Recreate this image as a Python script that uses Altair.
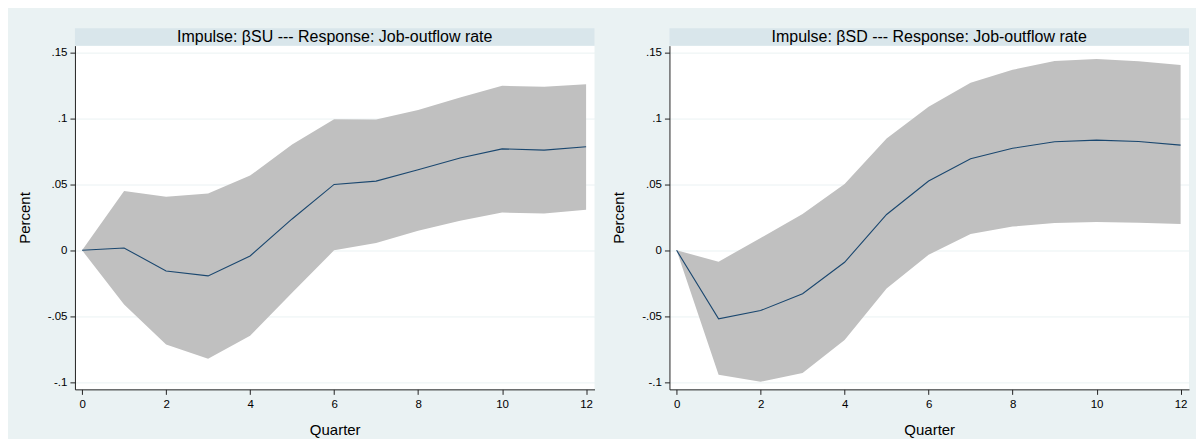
import altair as alt
import pandas as pd

quarters = list(range(13))

# Impulse: beta SU
su_irf = [0.0, 0.0018, -0.0157, -0.0194, -0.0043, 0.0238, 0.0500, 0.0525, 0.0612, 0.0700, 0.0770, 0.0760, 0.0786]
su_lo = [0.0, -0.0412, -0.0715, -0.0823, -0.0649, -0.0322, 0.0000, 0.0056, 0.0149, 0.0225, 0.0287, 0.0279, 0.0308]
su_hi = [0.0, 0.0450, 0.0407, 0.0432, 0.0567, 0.0803, 0.0995, 0.0993, 0.1065, 0.1160, 0.1248, 0.1242, 0.1260]

# Impulse: beta SD
sd_irf = [0.0, -0.0520, -0.0457, -0.0330, -0.0091, 0.0272, 0.0526, 0.0695, 0.0774, 0.0824, 0.0836, 0.0826, 0.0798]
sd_lo = [0.0, -0.0945, -0.0998, -0.0930, -0.0680, -0.0290, -0.0033, 0.0124, 0.0180, 0.0207, 0.0215, 0.0210, 0.0200]
sd_hi = [0.0, -0.0086, 0.0093, 0.0275, 0.0503, 0.0848, 0.1089, 0.1272, 0.1370, 0.1437, 0.1452, 0.1434, 0.1406]

panel_titles = [
    "Impulse: \u03b2SU --- Response: Job-outflow rate",
    "Impulse: \u03b2SD --- Response: Job-outflow rate",
]

x_ticks = [0, 2, 4, 6, 8, 10, 12]
y_ticks = [-0.1, -0.05, 0, 0.05, 0.1, 0.15]
y_tick_labels = ["-.1", "-.05", "0", ".05", ".1", ".15"]

FONT = "Liberation Sans"
W, H = 520, 344
HEADER = 17.5

expr = "''"
for v, lab in zip(y_ticks, y_tick_labels):
    expr = f"round(datum.value*100)=={round(v*100)} ? '{lab}' : ({expr})"

xscale = alt.Scale(domain=[-0.17, 12.2], nice=False, zero=False)
yscale = alt.Scale(domain=[-0.1055, 0.1553], nice=False, zero=False)
xaxis = alt.Axis(values=x_ticks, title="Quarter", grid=False, titlePadding=13, labelPadding=4)
yaxis = alt.Axis(values=y_ticks, labelExpr=expr, title="Percent", grid=True, titlePadding=15)


def panel(irf, lo, hi, title):
    df = pd.DataFrame({"q": quarters, "irf": irf, "lo": lo, "hi": hi})
    band = alt.Chart(df).mark_area(color="#C0C0C0", opacity=1).encode(
        x=alt.X("q:Q", scale=xscale, axis=xaxis),
        y=alt.Y("lo:Q", scale=yscale, axis=yaxis),
        y2="hi:Q",
    )
    line = alt.Chart(df).mark_line(color="#1a476f", strokeWidth=1.1).encode(
        x=alt.X("q:Q", scale=xscale, axis=xaxis),
        y=alt.Y("irf:Q", scale=yscale, axis=yaxis),
    )
    hdr = alt.Data(values=[{"t": title}])
    header_rect = alt.Chart(hdr).mark_rect(color="#D9E6EB").encode(
        x=alt.value(0), x2=alt.value(W), y=alt.value(-HEADER), y2=alt.value(0)
    )
    header_text = alt.Chart(hdr).mark_text(
        font=FONT, fontSize=16, color="#000000", baseline="middle", align="center"
    ).encode(x=alt.value(W / 2), y=alt.value(-HEADER / 2 + 0.5), text="t:N")
    return alt.layer(band, line, header_rect, header_text).properties(width=W, height=H)


chart = (
    alt.hconcat(
        panel(su_irf, su_lo, su_hi, panel_titles[0]),
        panel(sd_irf, sd_lo, sd_hi, panel_titles[1]),
        spacing=17,
    )
    .properties(
        background="#EAF2F3",
        padding={"left": 9, "top": 19.5, "right": 7, "bottom": 0},
    )
    .configure_view(stroke=None, fill="#FFFFFF")
    .configure_axis(
        labelFont=FONT,
        titleFont=FONT,
        labelFontSize=11.5,
        titleFontSize=15,
        titleFontWeight="normal",
        labelColor="#000000",
        titleColor="#000000",
        domainColor="#222222",
        tickColor="#222222",
        tickSize=5,
        labelPadding=3,
        gridColor="#EAF2F3",
        gridWidth=1,
    )
)

chart.save("out.html", embed_options={"renderer": "svg", "actions": False})
